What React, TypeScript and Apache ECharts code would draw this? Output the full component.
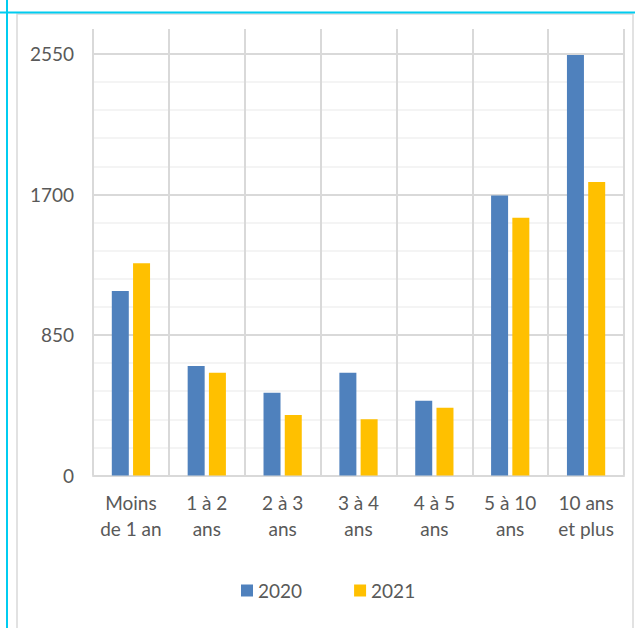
import React, { useEffect, useRef } from 'react';
import * as echarts from 'echarts';

const categories = [
  'Moins\nde 1 an',
  '1 à 2\nans',
  '2 à 3\nans',
  '3 à 4\nans',
  '4 à 5\nans',
  '5 à 10\nans',
  '10 ans\net plus',
];
const seriesNames = ['2020', '2021'];
const values2020 = [1115, 662, 500, 621, 452, 1693, 2543];
const values2021 = [1284, 621, 366, 340, 410, 1558, 1775];
const yTickLabels = [0, 850, 1700, 2550];
const yMax = 2700;
const minorStep = 170;
const majorStep = 850;

export default function App() {
  const ref = useRef<HTMLDivElement>(null);
  useEffect(() => {
    document.body.style.margin = '0';
    const chart = echarts.init(ref.current!, null, { renderer: 'svg' });
    const font = 'Lato';
    const textColor = '#595959';
    chart.setOption({
      animation: false,
      backgroundColor: '#ffffff',
      textStyle: { fontFamily: font },
      grid: { left: 93, right: 11, top: 29, bottom: 152.5 },
      legend: {
        data: seriesNames,
        left: 236,
        top: 576,
        icon: 'rect',
        itemWidth: 12,
        itemHeight: 12,
        itemGap: 52,
        textStyle: { color: textColor, fontSize: 19, fontFamily: font },
      },
      xAxis: {
        type: 'category',
        data: categories,
        axisLine: { show: true, lineStyle: { color: '#d9d9d9', width: 2 } },
        axisTick: { show: false },
        axisLabel: {
          color: textColor,
          fontSize: 19,
          lineHeight: 26,
          margin: 14,
          interval: 0,
          fontFamily: font,
        },
        splitLine: { show: true, lineStyle: { color: '#d9d9d9', width: 2 } },
      },
      yAxis: [
        {
          type: 'value',
          min: 0,
          max: yMax,
          interval: minorStep,
          axisLine: { show: false },
          axisTick: { show: false },
          axisLabel: {
            color: textColor,
            fontSize: 19,
            margin: 19,
            fontFamily: font,
            formatter: (v: number) => (yTickLabels.includes(v) ? String(v) : ''),
          },
          splitLine: {
            show: true,
            showMaxLine: false,
            lineStyle: {
              color: ['transparent', '#f0f0f0', '#f0f0f0', '#f0f0f0', '#f0f0f0'],
              width: 1.5,
            },
          },
        },
        {
          type: 'value',
          min: 0,
          max: yMax,
          interval: majorStep,
          position: 'left',
          axisLine: { show: false },
          axisTick: { show: false },
          axisLabel: { show: false },
          splitLine: {
            show: true,
            showMaxLine: false,
            lineStyle: { color: '#d9d9d9', width: 2 },
          },
        },
      ],
      series: [
        {
          name: seriesNames[0],
          type: 'bar',
          data: values2020,
          barWidth: 17,
          barGap: '25%',
          itemStyle: { color: '#4f81bd' },
          z: 3,
        },
        {
          name: seriesNames[1],
          type: 'bar',
          data: values2021,
          barWidth: 17,
          barGap: '25%',
          itemStyle: { color: '#ffc000' },
          z: 3,
        },
      ],
      graphic: [
        {
          type: 'rect',
          shape: { x: 17, y: 14, width: 616, height: 630 },
          style: { fill: 'none', stroke: '#d9d9d9', lineWidth: 1.5 },
          z: -1,
          silent: true,
        },
        {
          type: 'line',
          shape: { x1: 0, y1: 12.5, x2: 635, y2: 12.5 },
          style: { stroke: '#00ccf0', lineWidth: 2 },
          z: 10,
          silent: true,
        },
        {
          type: 'line',
          shape: { x1: 7, y1: 0, x2: 7, y2: 628 },
          style: { stroke: '#00ccf0', lineWidth: 2 },
          z: 10,
          silent: true,
        },
      ],
    });
    return () => chart.dispose();
  }, []);
  return <div ref={ref} style={{ width: 635, height: 628 }} />;
}
